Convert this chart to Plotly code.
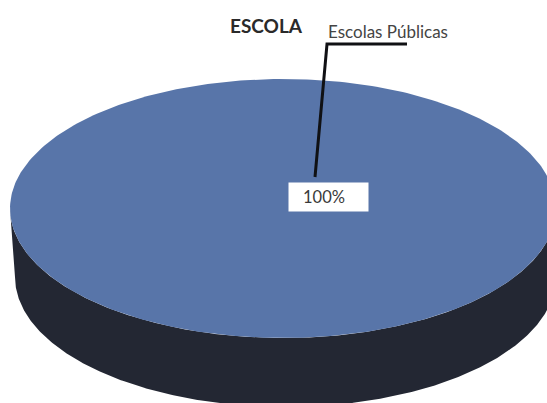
import numpy as np
import plotly.graph_objects as go

# Dados do gráfico
categories = ["Escolas Públicas"]
values = [100]
chart_title = "ESCOLA"
top_colors = ["#5875a9"]
side_colors = ["#232733"]

# Geometria do disco em perspectiva (coordenadas em pixels da página)
WIDTH, HEIGHT = 547, 403
CX, CY, RX, RY = 283, 208.5, 273, 129.5
BASE_CX, BASE_CY, BASE_RX, BASE_RY = 285.5, 277, 270.5, 130


def ring(start, stop, cx, cy, rx, ry, n=361):
    t = np.linspace(start, stop, n)
    return cx + rx * np.cos(t), cy + ry * np.sin(t)


fig = go.Figure()
shares = np.array(values, dtype=float) / sum(values)
edges = np.concatenate([[0.0], np.cumsum(shares)]) * 2 * np.pi

for i, share in enumerate(shares):
    # Parede lateral: só a metade inferior do contorno fica visível
    x_top, y_top = ring(0, np.pi, CX, CY, RX, RY)
    x_low, y_low = ring(np.pi, 0, BASE_CX, BASE_CY, BASE_RX, BASE_RY)
    fig.add_trace(go.Scatter(
        x=np.concatenate([x_top, x_low]), y=np.concatenate([y_top, y_low]),
        mode="lines", fill="toself", fillcolor=side_colors[i],
        line=dict(width=0), hoverinfo="skip", showlegend=False,
    ))
    # Face superior da fatia
    x_face, y_face = ring(edges[i], edges[i + 1], CX, CY, RX, RY)
    fig.add_trace(go.Scatter(
        x=x_face, y=y_face, mode="lines", fill="toself",
        fillcolor=top_colors[i], line=dict(width=0),
        name=categories[i], hoverinfo="name", showlegend=False,
    ))

# Linha de chamada entre o rótulo de valor e o nome da categoria
fig.add_trace(go.Scatter(
    x=[315, 327, 407], y=[177, 44, 44], mode="lines",
    line=dict(color="#101114", width=3), hoverinfo="skip", showlegend=False,
))

fig.add_annotation(
    x=328.5, y=197, text=" ", showarrow=False,
    bgcolor="#ffffff", width=79, height=28, borderpad=0,
)
fig.add_annotation(
    x=324, y=197, text=f"{values[0]}%", showarrow=False,
    font=dict(family="Lato", size=16.5, color="#3a3a3a"),
)
fig.add_annotation(
    x=387.5, y=31, text=categories[0], showarrow=False,
    font=dict(family="Lato", size=17, color="#444444"),
)
fig.add_annotation(
    x=266, y=25, text=f"<b>{chart_title}</b>", showarrow=False,
    font=dict(family="Lato", size=19, color="#2a2a2a"),
)

fig.update_layout(
    width=WIDTH, height=HEIGHT, margin=dict(l=0, r=0, t=0, b=0),
    paper_bgcolor="#ffffff", plot_bgcolor="#ffffff",
    xaxis=dict(range=[0, WIDTH], visible=False, fixedrange=True),
    yaxis=dict(range=[HEIGHT, 0], visible=False, fixedrange=True),
)
fig.write_html("out.html", config=dict(displayModeBar=False))
